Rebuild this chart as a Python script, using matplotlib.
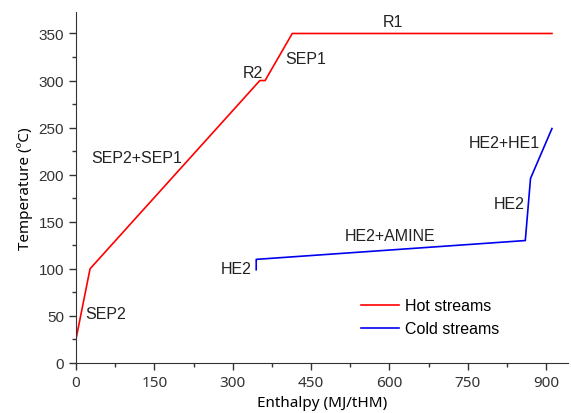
import numpy as np
import matplotlib
matplotlib.use('Agg')
from matplotlib import pyplot as plt
from matplotlib.ticker import MultipleLocator

plt.rcParams['font.family'] = ['Liberation Sans', 'DejaVu Sans']

# 고온 흐름 (Hot streams)
hot_h = [0, 27, 352, 362, 414, 911]
hot_t = [25, 100, 300, 300, 350, 350]

# 저온 흐름 (Cold streams)
cold_h = [345, 345, 860, 870, 911]
cold_t = [99, 110, 130, 196, 249]

# 구간 라벨
labels = ['SEP2', 'SEP2+SEP1', 'R2', 'SEP1', 'R1',
          'HE2', 'HE2+AMINE', 'HE2', 'HE2+HE1']
label_h = [17, 30, 320, 400, 588, 278, 514, 800, 752]
label_t = [52, 218, 309, 323, 363, 100, 135, 169, 234]

fig = plt.figure(figsize=(5.71, 4.14), dpi=100)
ax = fig.add_axes([0.133, 0.121, 0.862, 0.848])

ax.plot(hot_h, hot_t, color='#ff0000', lw=1.2, label='Hot streams')
ax.plot(cold_h, cold_t, color='#0000ee', lw=1.2, label='Cold streams')

for s, x, y in zip(labels, label_h, label_t):
    ax.text(x, y, s, fontsize=11.5, ha='left', va='center', color='#222222')

ax.set_xlim(0, 942)
ax.set_ylim(0, 373)
ax.xaxis.set_major_locator(MultipleLocator(150))
ax.xaxis.set_minor_locator(MultipleLocator(75))
ax.yaxis.set_major_locator(MultipleLocator(50))
ax.yaxis.set_minor_locator(MultipleLocator(25))
ax.tick_params(which='major', length=5, width=1, labelsize=11, colors='#333333')
ax.tick_params(which='minor', length=3, width=1, colors='#333333')
for lb in ax.get_xticklabels():
    lb.set_family(['Noto Sans', 'DejaVu Sans'])
for sp in ['top', 'right']:
    ax.spines[sp].set_visible(False)
for sp in ['left', 'bottom']:
    ax.spines[sp].set_color('#333333')

ax.set_xlabel('Enthalpy (MJ/tHM)', fontsize=11, labelpad=4,
              family=['Noto Sans', 'DejaVu Sans'])
ax.set_ylabel('Temperature (ºC)', fontsize=11, labelpad=4,
              family=['Noto Sans', 'DejaVu Sans'])

ax.legend(loc='lower right', bbox_to_anchor=(0.89, 0.035), frameon=False,
          fontsize=11.5, handlelength=2.4, handletextpad=0.4, labelspacing=0.5)

plt.savefig('out.png', dpi=100)
